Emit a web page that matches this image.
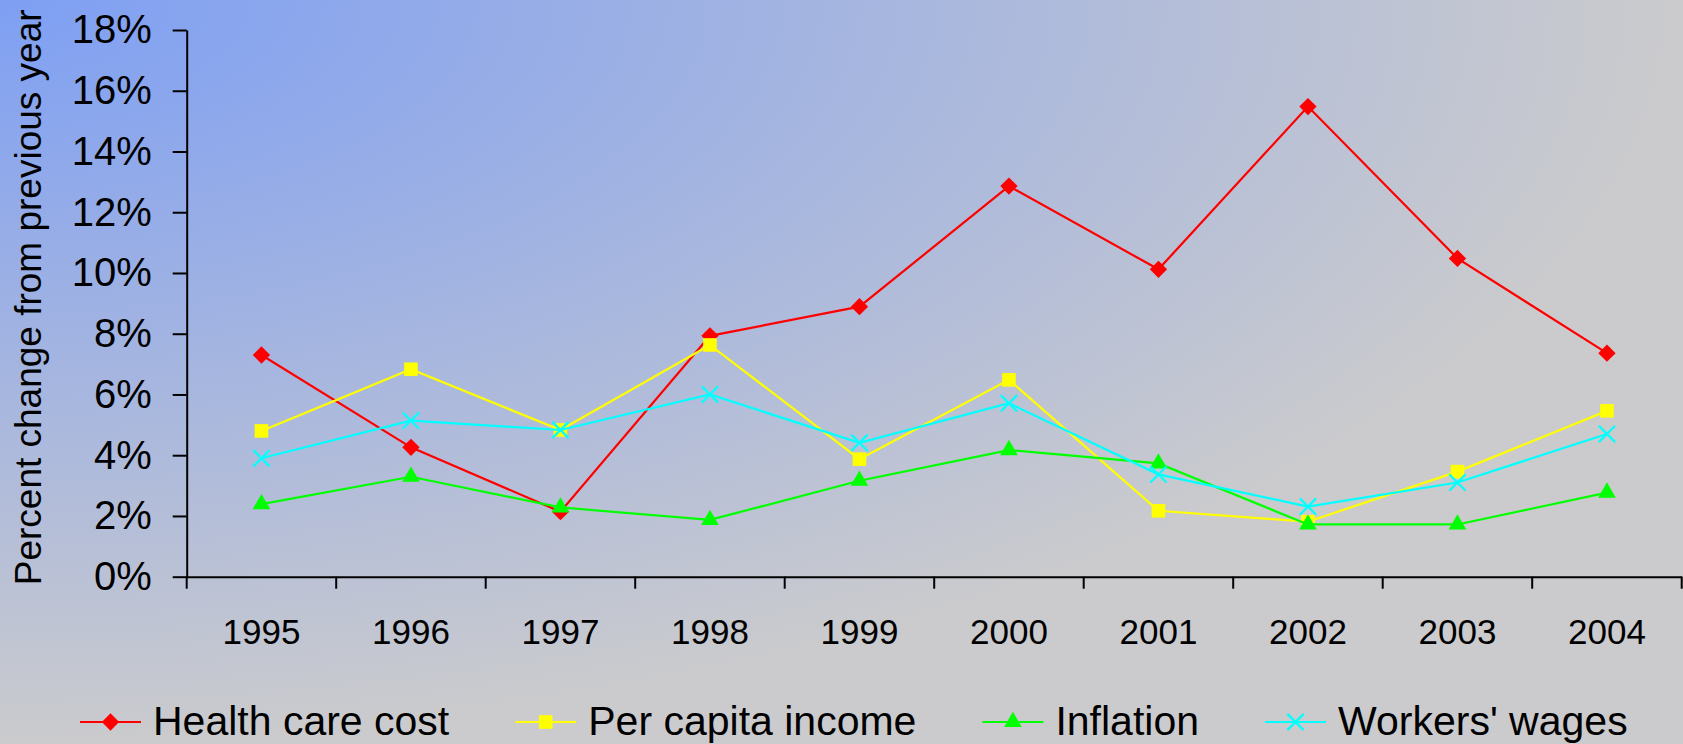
<!DOCTYPE html>
<html>
<head>
<meta charset="utf-8">
<script src="https://cdn.jsdelivr.net/npm/d3@7"></script>
<style>
  html, body { margin: 0; padding: 0; overflow: hidden; }
  svg { display: block; font-family: 'Liberation Sans', Arial, sans-serif; }
</style>
</head>
<body>
<svg class="chart"></svg>
<script>
//Data
const years = ['1995', '1996', '1997', '1998', '1999', '2000', '2001', '2002', '2003', '2004'];
const healthCare = [7.3, 4.26, 2.14, 7.93, 8.89, 12.86, 10.12, 15.48, 10.48, 7.36];
const perCapita = [4.8, 6.83, 4.83, 7.63, 3.87, 6.48, 2.17, 1.81, 3.46, 5.46];
const inflation = [2.39, 3.29, 2.28, 1.87, 3.16, 4.17, 3.73, 1.72, 1.72, 2.77];
const wages = [3.9, 5.14, 4.83, 6.0, 4.41, 5.71, 3.37, 2.31, 3.1, 4.7];
const yTicks = [0, 2, 4, 6, 8, 10, 12, 14, 16, 18];

const seriesList = [
  { name: 'Health care cost', values: healthCare, color: '#ff0000', marker: 'diamond' },
  { name: 'Per capita income', values: perCapita, color: '#ffff00', marker: 'square' },
  { name: 'Inflation', values: inflation, color: '#00ff00', marker: 'triangle' },
  { name: "Workers' wages", values: wages, color: '#00ffff', marker: 'cross' }
];

const width = 1683;
const height = 744;
const plot = { left: 186.7, right: 1681.7, top: 30, bottom: 576.7 };

const svg = d3
  .select('.chart')
  .attr('width', width)
  .attr('height', height);

//Background gradient from the top left corner
const grad = svg
  .append('defs')
  .append('radialGradient')
  .attr('id', 'bg')
  .attr('cx', 0)
  .attr('cy', 0)
  .attr('fx', 0)
  .attr('fy', 0)
  .attr('r', 1);
grad.append('stop').attr('offset', 0).attr('stop-color', '#7e9ff3');
grad.append('stop').attr('offset', 1).attr('stop-color', '#cbcbcd');

svg
  .append('rect')
  .attr('width', width)
  .attr('height', height)
  .attr('fill', 'url(#bg)');

//Scales
const x = d3
  .scaleBand()
  .domain(years)
  .range([plot.left, plot.right])
  .padding(0);
const y = d3
  .scaleLinear()
  .domain([0, 18])
  .range([plot.bottom, plot.top]);

const cx = d => x(d) + x.bandwidth() / 2;

//Y axis
const yAxis = svg
  .append('g')
  .attr('transform', `translate(${plot.left},0)`)
  .call(
    d3
      .axisLeft(y)
      .tickValues(yTicks)
      .tickFormat(d => `${d}%`)
      .tickSizeInner(14)
      .tickSizeOuter(0)
      .tickPadding(21)
  );
yAxis.select('.domain').attr('stroke', '#000').attr('stroke-width', 2);
yAxis.selectAll('.tick line').attr('stroke', '#000').attr('stroke-width', 2);
yAxis
  .selectAll('.tick text')
  .attr('fill', '#000')
  .style('font-size', '40px')
  .style('font-family', 'Liberation Sans, Arial, sans-serif');

//X axis (labels at centres, ticks between categories)
const xAxis = svg
  .append('g')
  .attr('transform', `translate(0,${plot.bottom})`)
  .call(
    d3
      .axisBottom(x)
      .tickSizeInner(0)
      .tickSizeOuter(0)
      .tickPadding(42)
  );
xAxis.select('.domain').attr('stroke', '#000').attr('stroke-width', 2);
xAxis
  .selectAll('.tick text')
  .attr('fill', '#000')
  .style('font-size', '35px')
  .style('font-family', 'Liberation Sans, Arial, sans-serif');

xAxis
  .selectAll('line.sep')
  .data(years.map(d => x(d)).concat([x.range()[1]]))
  .enter()
  .append('line')
  .attr('class', 'sep')
  .attr('x1', d => d)
  .attr('x2', d => d)
  .attr('y1', 0)
  .attr('y2', 12)
  .attr('stroke', '#000')
  .attr('stroke-width', 2);

//Y axis title
svg
  .append('text')
  .attr('transform', `translate(41,${(plot.top + plot.bottom) / 2 - 6}) rotate(-90)`)
  .attr('text-anchor', 'middle')
  .style('font-size', '37px')
  .attr('fill', '#000')
  .text('Percent change from previous year');

//Marker shapes
const markerPath = type => {
  if (type === 'diamond') return d3.symbol(d3.symbolSquare, 150)();
  if (type === 'square') return d3.symbol(d3.symbolSquare, 185)();
  if (type === 'triangle') return d3.symbol(d3.symbolTriangle, 135)();
  return d3.symbol(d3.symbolTimes, 175)();
};

const drawMarker = (g, s, px, py) => {
  const m = g
    .append('path')
    .attr('d', markerPath(s.marker))
    .attr('transform', `translate(${px},${py})${s.marker === 'diamond' ? ' rotate(45)' : ''}`);
  if (s.marker === 'cross') {
    m.attr('fill', 'none').attr('stroke', s.color).attr('stroke-width', 2.2);
  } else {
    m.attr('fill', s.color);
  }
};

//Lines and markers
const line = d3
  .line()
  .x((d, i) => cx(years[i]))
  .y(d => y(d));

seriesList.forEach(s => {
  const g = svg.append('g');
  g.append('path')
    .datum(s.values)
    .attr('d', line)
    .attr('fill', 'none')
    .attr('stroke', s.color)
    .attr('stroke-width', 2.2);
  s.values.forEach((v, i) => drawMarker(g, s, cx(years[i]), y(v)));
});

//Legend
const legend = svg.append('g').attr('class', 'legend');
let lx = 80;
const ly = 722;
seriesList.forEach(s => {
  const item = legend.append('g');
  item
    .append('line')
    .attr('x1', lx)
    .attr('x2', lx + 61)
    .attr('y1', ly)
    .attr('y2', ly)
    .attr('stroke', s.color)
    .attr('stroke-width', 2.2);
  drawMarker(item, s, lx + 30.5, ly);
  const t = item
    .append('text')
    .attr('x', lx + 73)
    .attr('y', 735)
    .style('font-size', '41px')
    .attr('fill', '#000')
    .text(s.name);
  lx = lx + 73 + t.node().getComputedTextLength() + 66;
});
</script>
</body>
</html>
